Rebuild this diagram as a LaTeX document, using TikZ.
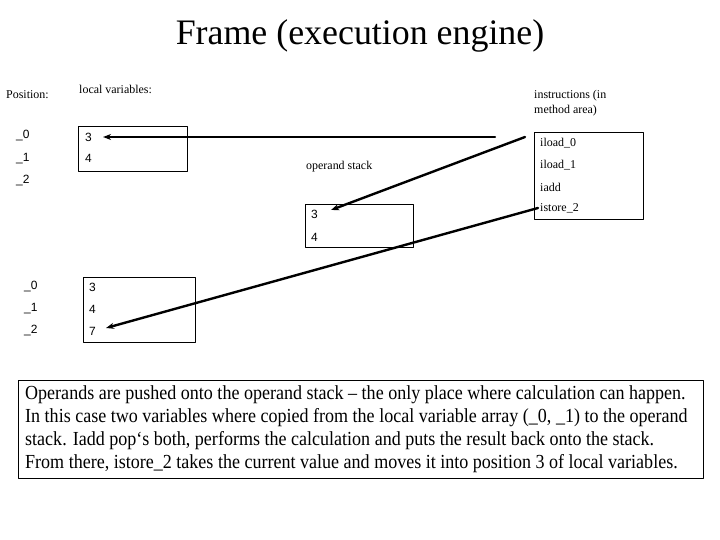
\documentclass[tikz,border=0pt]{standalone}
\usepackage{fontspec}
\setmainfont{Liberation Serif}
\newfontfamily\digitfont{Liberation Sans}
\newfontfamily\notefont[FakeStretch=0.905]{Liberation Serif}
\usetikzlibrary{arrows.meta}
\begin{document}
\begin{tikzpicture}[x=1bp, y=-1bp, line cap=round, line join=round,
  lbl/.style={anchor=west, inner sep=0pt, font=\fontsize{12}{15}\selectfont},
  num/.style={anchor=west, inner sep=0pt, font=\digitfont\fontsize{12}{14}\selectfont},
  frame/.style={draw, line width=0.8bp},
  push/.style={line width=2.4bp, -{Stealth[length=8bp,width=6bp]}}]
  \useasboundingbox (0,0) rectangle (720,540);
  \node[font=\fontsize{36}{40}\selectfont] (title) at (360,36) {Frame (execution engine)};
  % labels
  \node[lbl] (pos) at (6,95) {Position:};
  \node[lbl] (lvlabel) at (79,89) {local variables:};
  \node[lbl] (oplabel) at (306,167) {operand stack};
  \node[lbl, align=left] (inlabel) at (534,103) {instructions (in\\method area)};
  % local variables before
  \draw[frame] (78,126) rectangle (187,171);
  \foreach \i/\y in {0/136,1/159,2/181}
    \node[num] (posA\i) at (16,\y) {\_\i};
  \node[num] (lvA0) at (85,137) {3};
  \node[num] (lvA1) at (85,158) {4};
  % operand stack
  \draw[frame] (305,204) rectangle (413,247);
  \node[num] (op0) at (311,214) {3};
  \node[num] (op1) at (311,237) {4};
  % instructions
  \draw[frame] (534,132) rectangle (643,219);
  \foreach \i/\t/\y in {0/iload\_0/143,1/iload\_1/165,2/iadd/187,3/istore\_2/208}
    \node[lbl] (ins\i) at (540,\y) {\t};
  % local variables after
  \draw[frame] (83,277) rectangle (195,342);
  \foreach \i/\v/\y in {0/3/287,1/4/309,2/7/331}{
    \node[num] (posB\i) at (24,\y) {\_\i};
    \node[num] (lvB\i) at (89,\y) {\v};
  }
  % arrows
  \coordinate (fromA) at (495,137);
  \coordinate (fromB) at (525,137);
  \draw[push] (fromA) -- ([xshift=11bp]lvA0.east);
  \draw[push] (fromB) -- ([xshift=13bp,yshift=4bp]op0.east);
  \draw[push] ([xshift=-2bp]ins3.west) -- ([xshift=10bp,yshift=3bp]lvB2.east);
  % note
  \node[draw, line width=0.8bp, minimum width=685bp, minimum height=98bp,
    anchor=north west, inner sep=0pt] (note) at (18,380) {};
  \node[anchor=west, align=left, inner sep=0pt,
    font=\notefont\fontsize{20}{23}\selectfont] (notetext) at ([xshift=7bp]note.west)
    {Operands are pushed onto the operand stack – the only place where calculation can happen.\\
     In this case two variables where copied from the local variable array (\_0, \_1) to the operand\\
     stack. Iadd pop‘s both, performs the calculation and puts the result back onto the stack.\\
     From there, istore\_2 takes the current value and moves it into position 3 of local variables.};
\end{tikzpicture}
\end{document}
